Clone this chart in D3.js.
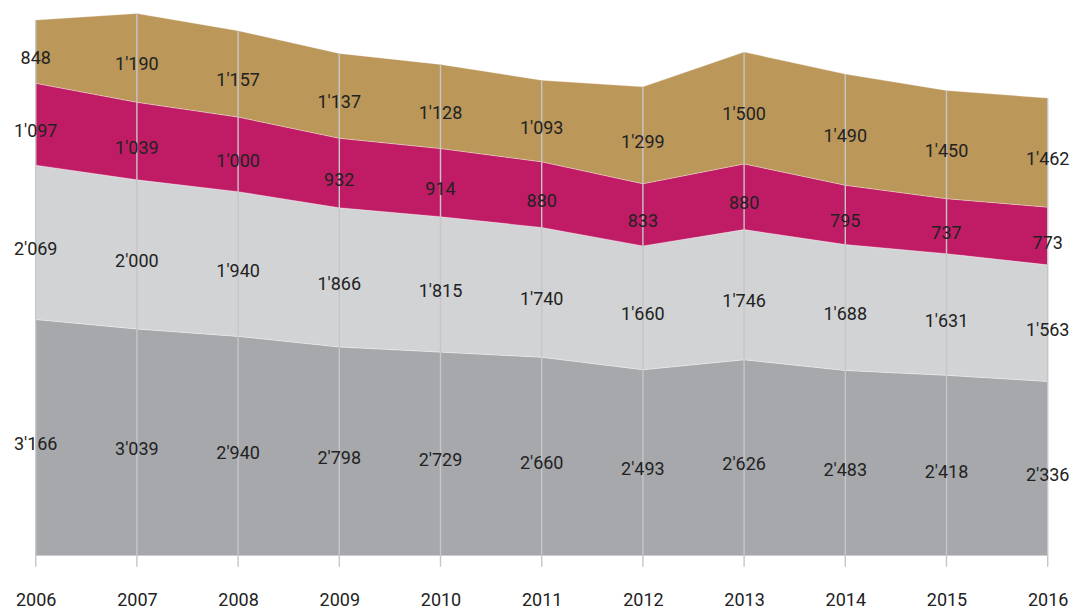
<!DOCTYPE html>
<html>
<head>
<meta charset="utf-8">
<script src="https://cdn.jsdelivr.net/npm/d3@7"></script>
<style>
  html, body { margin: 0; padding: 0; background: #fff; }
  svg { display: block; }
  text { font-family: Roboto, "Noto Sans", sans-serif; fill: #222; }
</style>
</head>
<body>
<svg id="chart" width="1071" height="610"></svg>
<script>
const years = [2006, 2007, 2008, 2009, 2010, 2011, 2012, 2013, 2014, 2015, 2016];
const seriesKeys = ["darkGray", "lightGray", "magenta", "gold"];
const darkGray  = [3166, 3039, 2940, 2798, 2729, 2660, 2493, 2626, 2483, 2418, 2336];
const lightGray = [2069, 2000, 1940, 1866, 1815, 1740, 1660, 1746, 1688, 1631, 1563];
const magenta   = [1097, 1039, 1000, 932, 914, 880, 833, 880, 795, 737, 773];
const gold      = [848, 1190, 1157, 1137, 1128, 1093, 1299, 1500, 1490, 1450, 1462];
const colors = { darkGray: "#a7a8ab", lightGray: "#d2d3d5", magenta: "#c01c66", gold: "#bb9759" };

const table = years.map((yr, i) => ({
  year: yr, darkGray: darkGray[i], lightGray: lightGray[i], magenta: magenta[i], gold: gold[i]
}));

const svg = d3.select("#chart");
const baseY = 555.7;
const x = d3.scaleLinear().domain([2006, 2016]).range([35.7, 1047.7]);
const y = d3.scaleLinear().domain([0, 7400]).range([baseY, baseY - 7400 * 0.0746]);

const stacked = d3.stack().keys(seriesKeys)(table);

const area = d3.area()
  .x(d => x(d.data.year))
  .y0(d => y(d[0]))
  .y1(d => y(d[1]));

svg.append("g").selectAll("path")
  .data(stacked)
  .join("path")
  .attr("d", area)
  .attr("fill", d => colors[d.key])
  .attr("stroke", "#ffffff")
  .attr("stroke-opacity", 0.5)
  .attr("stroke-width", 0.6);

// vertical year lines from the top of the stack to below the baseline
const topLayer = stacked[stacked.length - 1];
svg.append("g").selectAll("line")
  .data(topLayer)
  .join("line")
  .attr("x1", d => x(d.data.year))
  .attr("x2", d => x(d.data.year))
  .attr("y1", d => y(d[1]))
  .attr("y2", baseY + 11)
  .attr("stroke", "#c6c6c8")
  .attr("stroke-width", 1.4);

// value labels
const fmt = d3.formatLocale({ decimal: ".", thousands: "'", grouping: [3], currency: ["", ""] }).format(",d");
const labels = svg.append("g");
stacked.forEach(s => {
  labels.selectAll(null)
    .data(s)
    .join("text")
    .attr("x", d => x(d.data.year))
    .attr("y", d => (y(d[0]) + y(d[1])) / 2 + 12.5)
    .attr("text-anchor", "middle")
    .attr("font-size", "18px")
    .text(d => fmt(d[1] - d[0]));
});

// year axis
const axis = d3.axisBottom(x).tickValues(years).tickFormat(d3.format("d")).tickSize(0).tickPadding(0);
const ax = svg.append("g").attr("transform", `translate(0, 606)`).call(axis);
ax.select(".domain").remove();
ax.selectAll("text")
  .attr("dy", 0)
  .attr("y", 0)
  .attr("font-size", "18px")
  .style("font-family", "Roboto, 'Noto Sans', sans-serif")
  .attr("fill", "#222");
</script>
</body>
</html>
